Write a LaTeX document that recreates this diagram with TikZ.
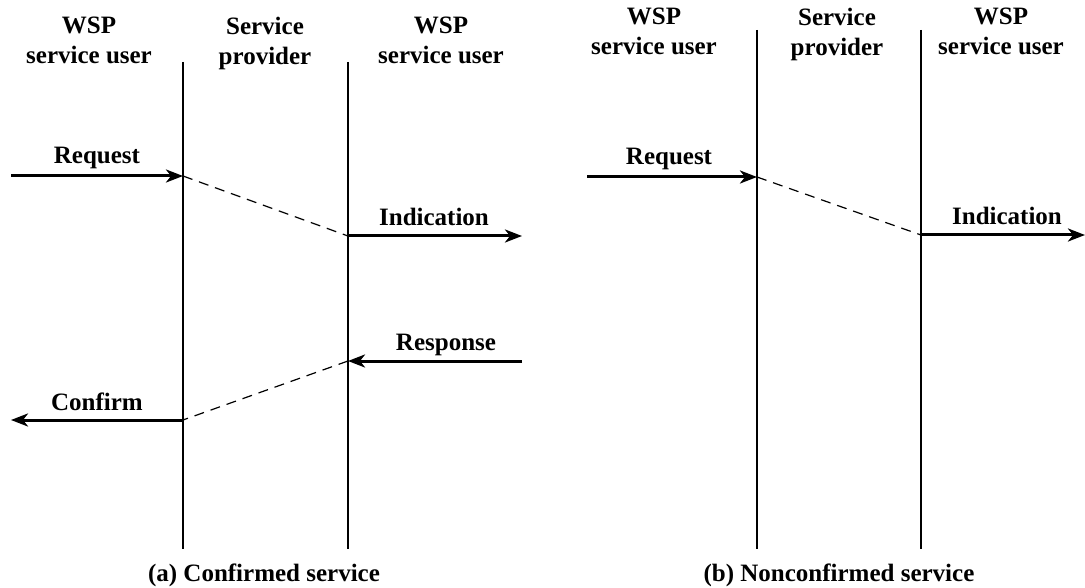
\documentclass[tikz,border=0pt]{standalone}
\usepackage{fontspec}
\setmainfont{Liberation Serif}
\usetikzlibrary{arrows.meta}
\begin{document}
\begin{tikzpicture}[x=1pt,y=-1pt,
  lifeline/.style={line width=1.3pt},
  msg/.style={line width=3pt,-{Stealth[length=17pt,width=13pt,inset=5pt]}},
  relay/.style={line width=1.2pt,dash pattern=on 10pt off 7pt},
  hdr/.style={font=\fontsize{25}{30}\selectfont\bfseries,align=center,anchor=north,inner sep=0pt},
  lbl/.style={font=\fontsize{25}{29}\selectfont\bfseries,anchor=base,inner sep=0pt},
  captext/.style={font=\fontsize{25}{29}\selectfont\bfseries,anchor=base,inner sep=0pt}]
\useasboundingbox (0,0) rectangle (1085,588);
% ---------- (a) confirmed ----------
\coordinate (a1t) at (183,62);  \coordinate (a1b) at (183,549);
\coordinate (a2t) at (348,62);  \coordinate (a2b) at (348,549);
\draw[lifeline] (a1t) -- (a1b);
\draw[lifeline] (a2t) -- (a2b);
\node[hdr] (ah1) at (89,17) {WSP\\service user};
\node[hdr] (ah2) at (265,17) {Service\\provider};
\node[hdr] (ah3) at (441,17) {WSP\\service user};
\coordinate (areqs) at (11,176);  \coordinate (areqe) at (183,176);
\coordinate (aindb) at (348,236); \coordinate (ainde) at (522,236);
\coordinate (aress) at (522,361); \coordinate (arese) at (348,361);
\coordinate (aconb) at (183,420); \coordinate (acone) at (11,420);
\draw[msg] (areqs) -- (areqe);
\draw[relay] (areqe) -- (aindb);
\draw[msg] (aindb) -- (ainde);
\draw[msg] (aress) -- (arese);
\draw[relay] (arese) -- (aconb);
\draw[msg] (aconb) -- (acone);
\node[lbl] (lreqa) at (97,164) {Request};
\node[lbl] (linda) at (434,226) {Indication};
\node[lbl] (lresa) at (446,350) {Response};
\node[lbl] (lcona) at (97,410) {Confirm};
\node[captext] (capa) at (264,581) {(a) Confirmed service};
% ---------- (b) nonconfirmed ----------
\coordinate (b1t) at (757,30);  \coordinate (b1b) at (757,549);
\coordinate (b2t) at (921,30);  \coordinate (b2b) at (921,549);
\draw[lifeline] (b1t) -- (b1b);
\draw[lifeline] (b2t) -- (b2b);
\node[hdr] (bh1) at (654,8) {WSP\\service user};
\node[hdr] (bh2) at (837,8) {Service\\provider};
\node[hdr] (bh3) at (1001,8) {WSP\\service user};
\coordinate (breqs) at (587,177);  \coordinate (breqe) at (757,177);
\coordinate (bindb) at (921,235);  \coordinate (binde) at (1085,235);
\draw[msg] (breqs) -- (breqe);
\draw[relay] (breqe) -- (bindb);
\draw[msg] (bindb) -- (binde);
\node[lbl] (lreqb) at (669,165) {Request};
\node[lbl] (lindb) at (1007,225) {Indication};
\node[captext] (capb) at (839,581) {(b) Nonconfirmed service};
\end{tikzpicture}
\end{document}
